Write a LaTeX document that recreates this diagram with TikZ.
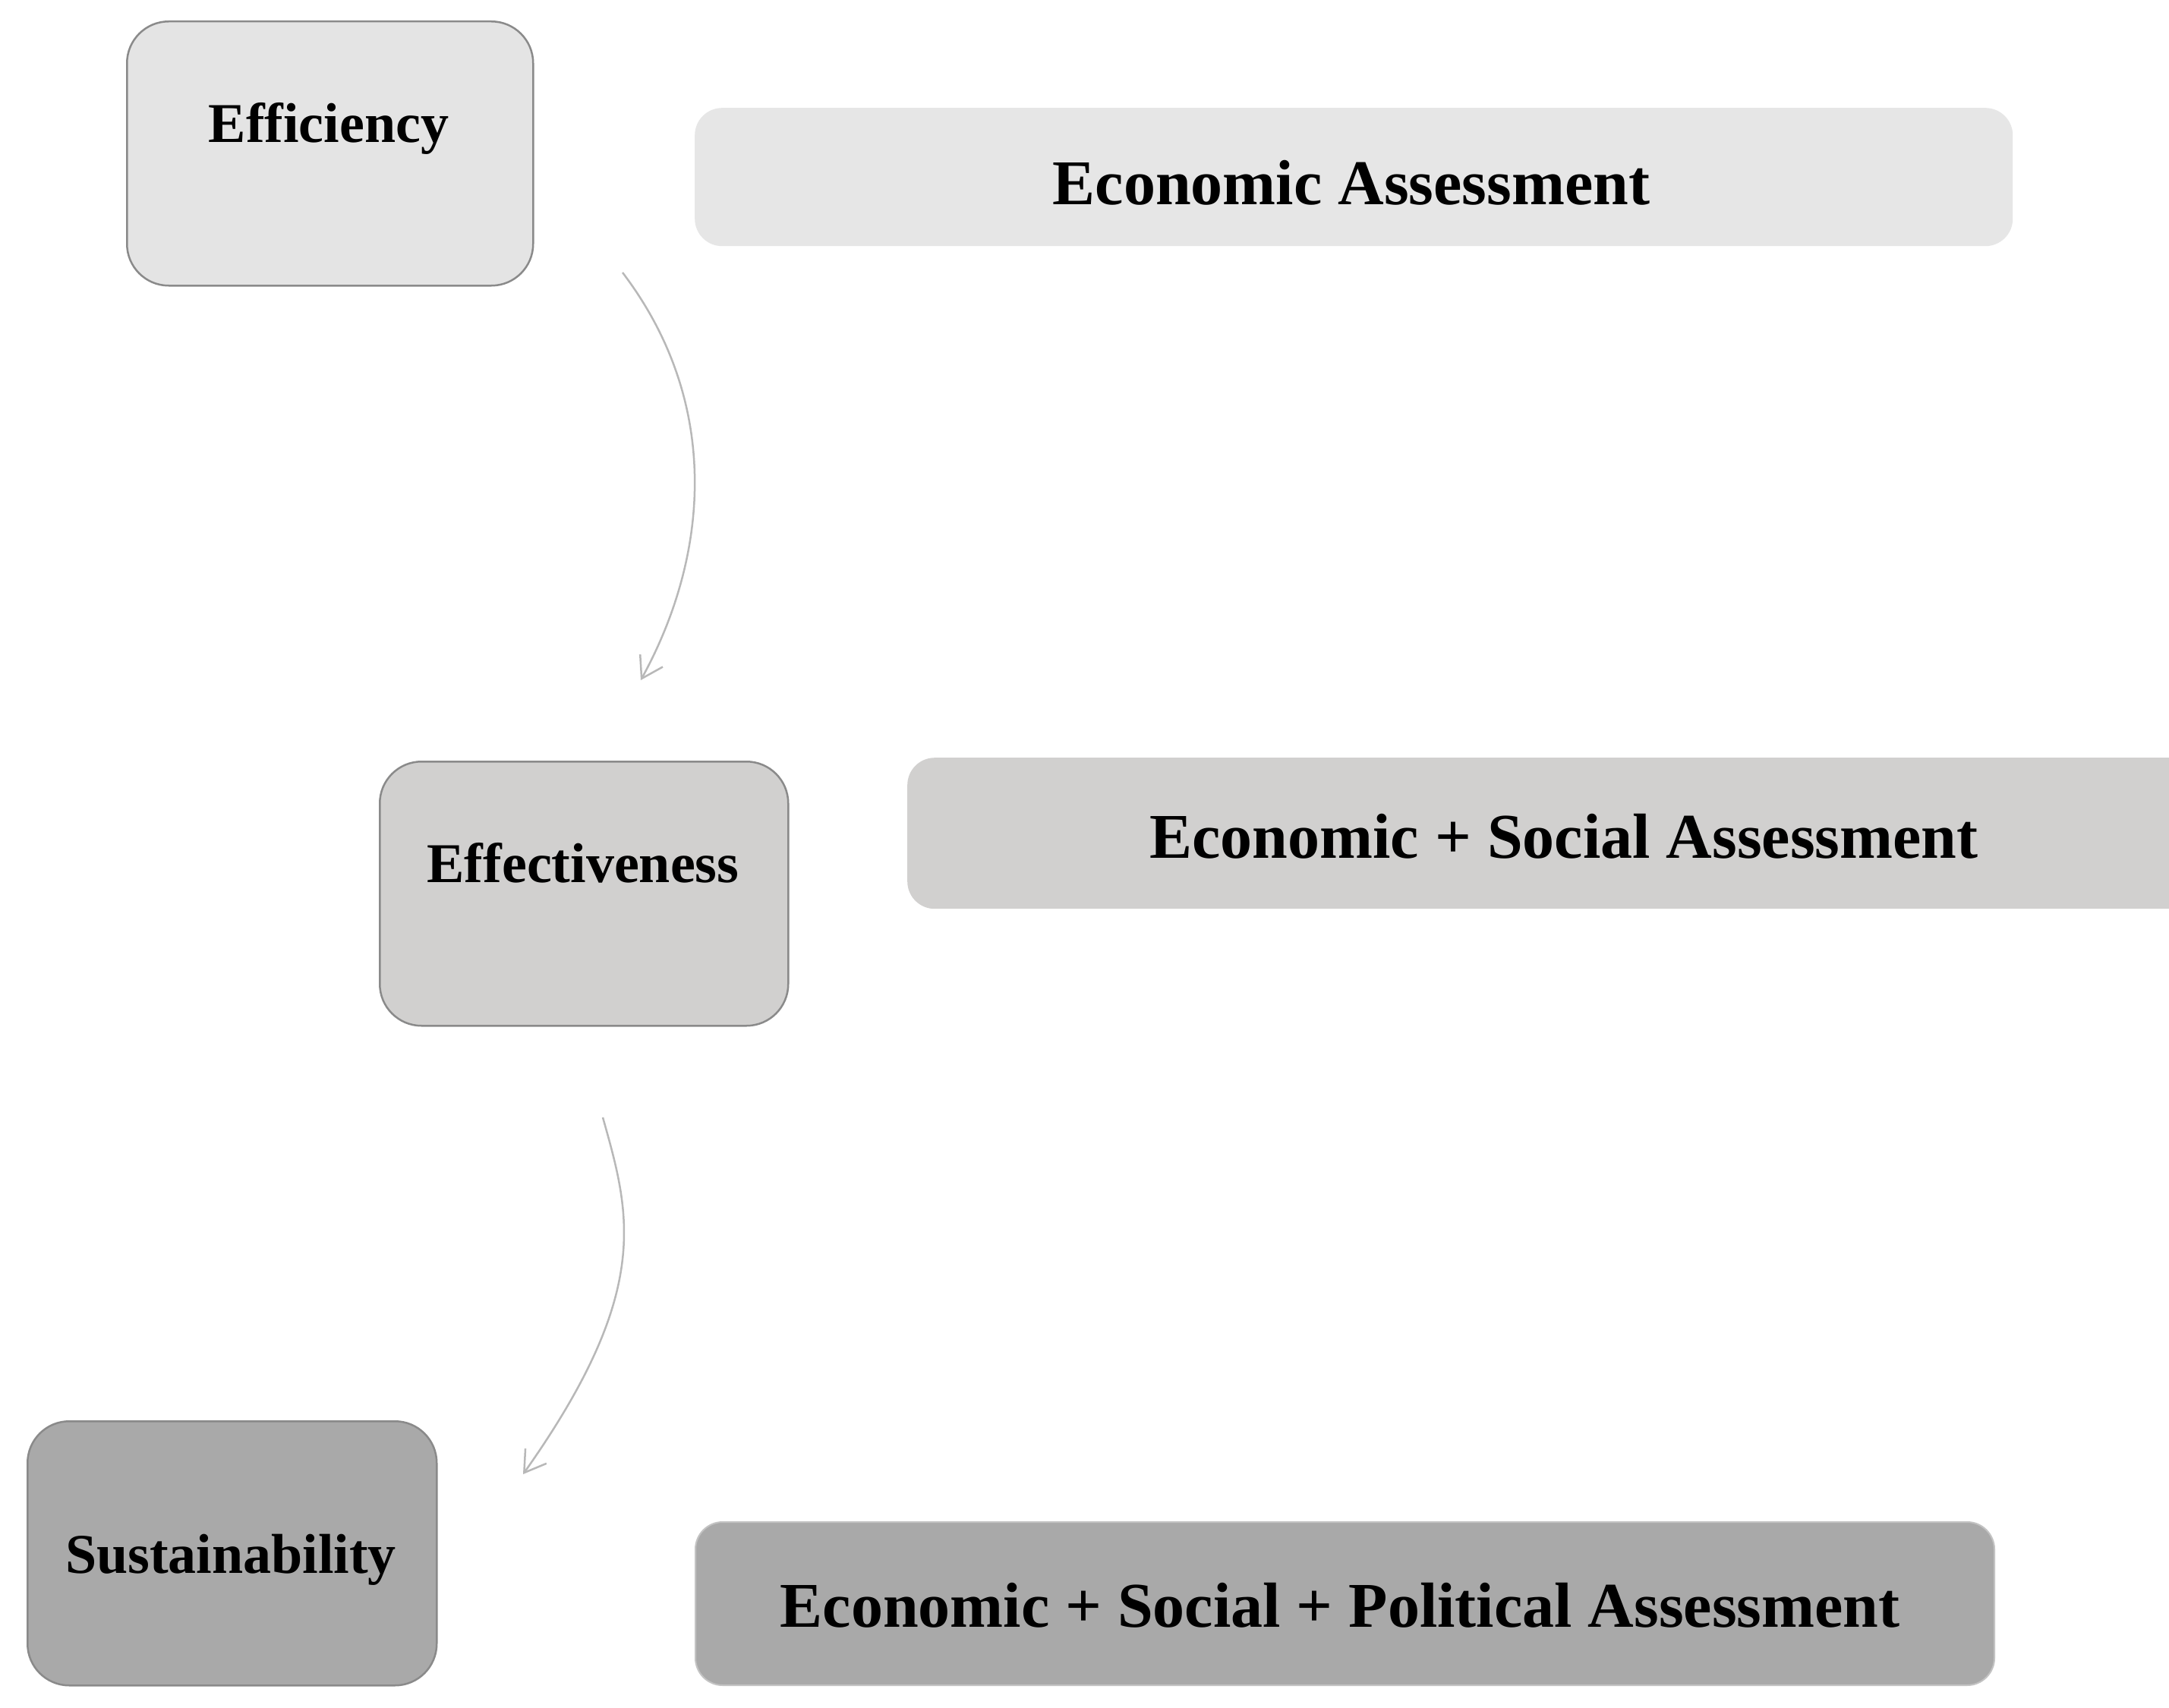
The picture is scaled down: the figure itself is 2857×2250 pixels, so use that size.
\documentclass[tikz,border=0pt]{standalone}
\usepackage{fontspec}
\setmainfont{Liberation Serif}
\usetikzlibrary{arrows.meta}
\definecolor{fillA}{HTML}{E4E4E4}
\definecolor{fillB}{HTML}{E6E6E6}
\definecolor{fillC}{HTML}{D1D0CF}
\definecolor{fillD}{HTML}{A9A9A9}
\definecolor{edgeG}{HTML}{8A8A8A}
\definecolor{arrowG}{HTML}{B8B8B8}
\tikzset{
  levelbox/.style={rounded corners=55pt, draw=edgeG, line width=2.5pt, inner sep=0pt, anchor=north west},
  assessbox/.style={rounded corners=36pt, inner sep=0pt, anchor=north west},
  smalllabel/.style={font=\fontsize{74}{80}\selectfont\bfseries, anchor=base, inner sep=0pt},
  biglabel/.style={font=\fontsize{84}{90}\selectfont\bfseries, anchor=base, inner sep=0pt},
  flowarrow/.style={draw=arrowG, line width=2.5pt, -{Straight Barb[length=27pt,width=34pt,line width=2.5pt]}}
}
\begin{document}
\begin{tikzpicture}[x=1pt,y=-1pt]
\useasboundingbox (0,0) rectangle (2857,2250);
\clip (0,0) rectangle (2857,2250);
\fill[white] (0,0) rectangle (2857,2250);
% level boxes
\node[levelbox, fill=fillA, minimum width=535pt, minimum height=348pt] (effbox) at (166,27) {};
\node[levelbox, fill=fillC, minimum width=538pt, minimum height=348pt] (efvbox) at (499,1002) {};
\node[levelbox, fill=fillD, minimum width=539pt, minimum height=348pt] (susbox) at (35,1871) {};
% assessment boxes
\node[assessbox, fill=fillB, minimum width=1736pt, minimum height=182pt] (econbox) at (915,142) {};
\node[assessbox, fill=fillC, minimum width=1760pt, minimum height=199pt] (socbox) at (1195,998) {};
\node[assessbox, fill=fillD, draw=fillD!70!white, line width=2pt, minimum width=1711pt, minimum height=215pt] (polbox) at (915,2004) {};
% labels
\node[smalllabel] (efflabel) at (433,188) {Efficiency};
\node[smalllabel] (efvlabel) at (768,1162) {Effectiveness};
\node[smalllabel] (suslabel) at (304,2072) {Sustainability};
\node[biglabel] (econlabel) at (1780,270) {Economic Assessment};
\node[biglabel] (soclabel) at (2060,1130) {Economic + Social Assessment};
\node[biglabel] (pollabel) at (1765,2143) {Economic + Social + Political Assessment};
% arrows
\coordinate (a1s) at (820,359);
\coordinate (a1e) at (844,896);
\coordinate (a2s) at (794,1472);
\coordinate (a2e) at (689,1942);
\draw[flowarrow] (a1s) .. controls (950,530) and (935,730) .. (a1e);
\draw[flowarrow] (a2s) .. controls (830,1600) and (860,1700) .. (a2e);
\end{tikzpicture}
\end{document}
